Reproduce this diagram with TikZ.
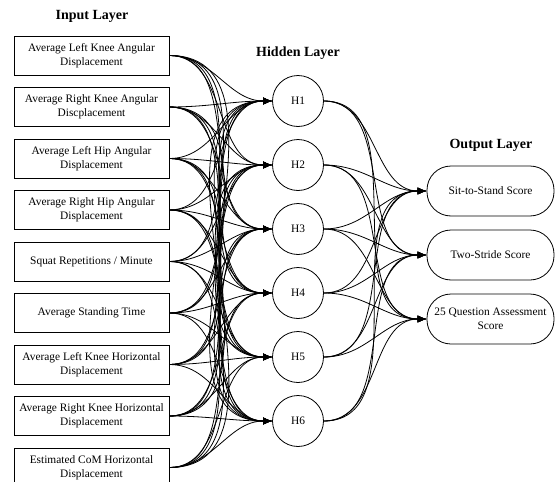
\documentclass[tikz,border=0pt]{standalone}
\usepackage{fontspec}
\setmainfont{Liberation Serif}
\usetikzlibrary{positioning, arrows.meta}

\begin{document}
\begin{tikzpicture}[
      x=1pt, y=-1pt,
      font=\fontsize{11.4}{14}\selectfont,
      node distance=11.7pt,
      inbox/.style={draw, line width=0.8pt, minimum width=155pt, minimum height=39pt, align=center, inner sep=1pt},
      hid/.style={draw, circle, line width=0.8pt, minimum size=51pt, inner sep=0pt},
      outbox/.style={draw, line width=0.8pt, rounded corners=24pt, minimum width=127pt, minimum height=50pt, align=center, inner sep=1pt},
      title/.style={font=\fontsize{14}{16}\selectfont\bfseries},
      link/.style={-{Latex[length=9pt,width=7pt]}, line width=0.8pt, out=0, in=180}
  ]
  \useasboundingbox (0,0) rectangle (555,482);
  % Input layer ------------------------------------------------
  \node[title] (intitle) at (92,16) {Input Layer};
  \node[inbox] (in1) at (91.5,55.5) {Average Left Knee Angular\\ Displacement};
  \node[inbox, below=of in1] (in2) {Average Right Knee Angular\\ Discplacement};
  \node[inbox, below=of in2] (in3) {Average Left Hip Angular\\ Displacement};
  \node[inbox, below=of in3] (in4) {Average Right Hip Angular\\ Displacement};
  \node[inbox, below=of in4] (in5) {Squat Repetitions / Minute};
  \node[inbox, below=of in5] (in6) {Average Standing Time};
  \node[inbox, below=of in6] (in7) {Average Left Knee Horizontal\\ Displacement};
  \node[inbox, below=of in7] (in8) {Average Right Knee Horizontal\\ Displacement};
  \node[inbox, below=of in8] (in9) {Estimated CoM Horizontal\\ Displacement};

  % Hidden layer ------------------------------------------------
  \node[title] (hidtitle) at (298,53) {Hidden Layer};
  \node[hid] (h1) at (298,101) {H1};
  \node[hid, below=12.2pt of h1] (h2) {H2};
  \node[hid, below=12.2pt of h2] (h3) {H3};
  \node[hid, below=12.2pt of h3] (h4) {H4};
  \node[hid, below=12.2pt of h4] (h5) {H5};
  \node[hid, below=12.2pt of h5] (h6) {H6};

  % Output layer ------------------------------------------------
  \node[title] (outtitle) at (491,145) {Output Layer};
  \node[outbox] (out1) at (490.5,191) {Sit-to-Stand Score};
  \node[outbox, below=13.2pt of out1] (out2) {Two-Stride Score};
  \node[outbox, below=13.2pt of out2] (out3) {25 Question Assessment\\ Score};

  % Arrows ------------------------------------------------
  \foreach \i in {1,...,9}
    \foreach \j in {1,...,6}
      \draw[link] (in\i.east) to (h\j.west);
  \foreach \j in {1,...,6}
    \foreach \k in {1,2,3}
      \draw[link] (h\j.east) to (out\k.west);
\end{tikzpicture}
\end{document}
